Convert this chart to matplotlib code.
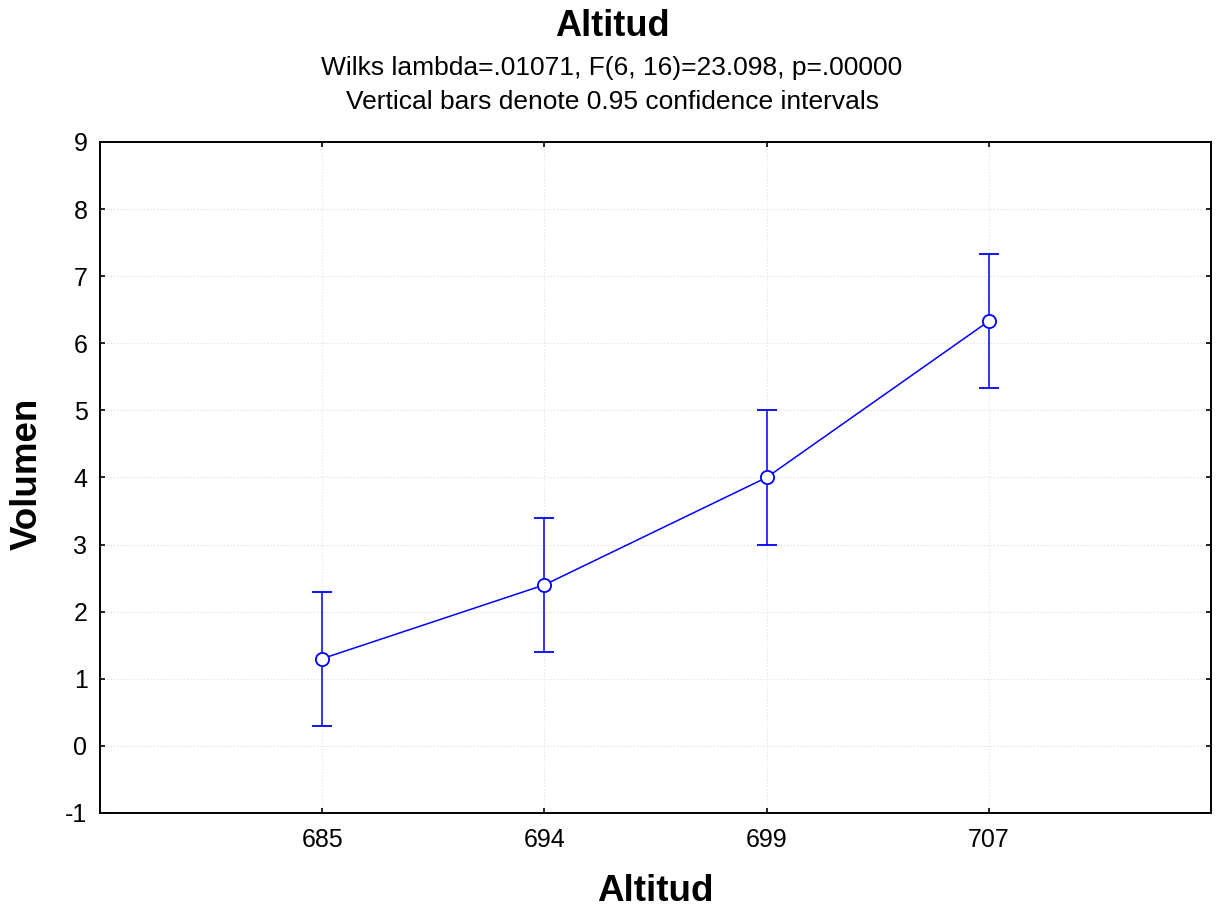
import matplotlib.pyplot as plt
import numpy as np

plt.rcParams['font.family'] = ['Liberation Sans', 'DejaVu Sans']
plt.rcParams['axes.unicode_minus'] = False

categories = ['685', '694', '699', '707']
means = [1.3, 2.4, 4.0, 6.33]
lower = [0.3, 1.4, 3.0, 5.33]
upper = [2.3, 3.4, 5.0, 7.33]

x = np.arange(len(categories))
means = np.array(means)
yerr = [means - np.array(lower), np.array(upper) - means]

fig = plt.figure(figsize=(12.24, 9.13), dpi=100)
ax = fig.add_axes([100 / 1224, 1 - 813 / 913, 1111 / 1224, 671 / 913])

ax.errorbar(x, means, yerr=yerr, color='#0000ff', lw=1.1, capsize=7.5, capthick=1.1,
            marker='o', markersize=9.5, markerfacecolor='white', markeredgecolor='#0000ff',
            markeredgewidth=1.3, zorder=3)

ax.set_xlim(-1, 4)
ax.set_ylim(-1, 9)
ax.set_xticks(x)
ax.set_xticklabels(categories)
ax.set_yticks(range(-1, 10))
ax.grid(True, linestyle=(0, (1, 2)), color='#dcdcdc', lw=0.8)
ax.tick_params(direction='in', length=3.6, width=1.2, labelsize=18,
               top=True, right=True)
ax.tick_params(axis='x', pad=11)
ax.tick_params(axis='y', pad=9)
for s in ax.spines.values():
    s.set_linewidth(1.4)

ax.set_xlabel('Altitud', fontsize=26.5, fontweight='bold')
ax.set_ylabel('Volumen', fontsize=26.5, fontweight='bold')
ax.xaxis.set_label_coords(0.5, (813 - 891) / 671)
ax.xaxis.label.set_va('center')
ax.yaxis.set_label_coords((27 - 100) / 1111, 0.505)
ax.yaxis.label.set_va('center')

fig.text(0.5, 1 - 27 / 913, 'Altitud', ha='center', va='center', fontsize=26, fontweight='bold')
fig.text(0.5, 1 - 68 / 913, 'Wilks lambda=.01071, F(6, 16)=23.098, p=.00000',
         ha='center', va='center', fontsize=19)
fig.text(0.5, 1 - 102 / 913, 'Vertical bars denote 0.95 confidence intervals',
         ha='center', va='center', fontsize=19)

fig.savefig('out.png', dpi=100)
